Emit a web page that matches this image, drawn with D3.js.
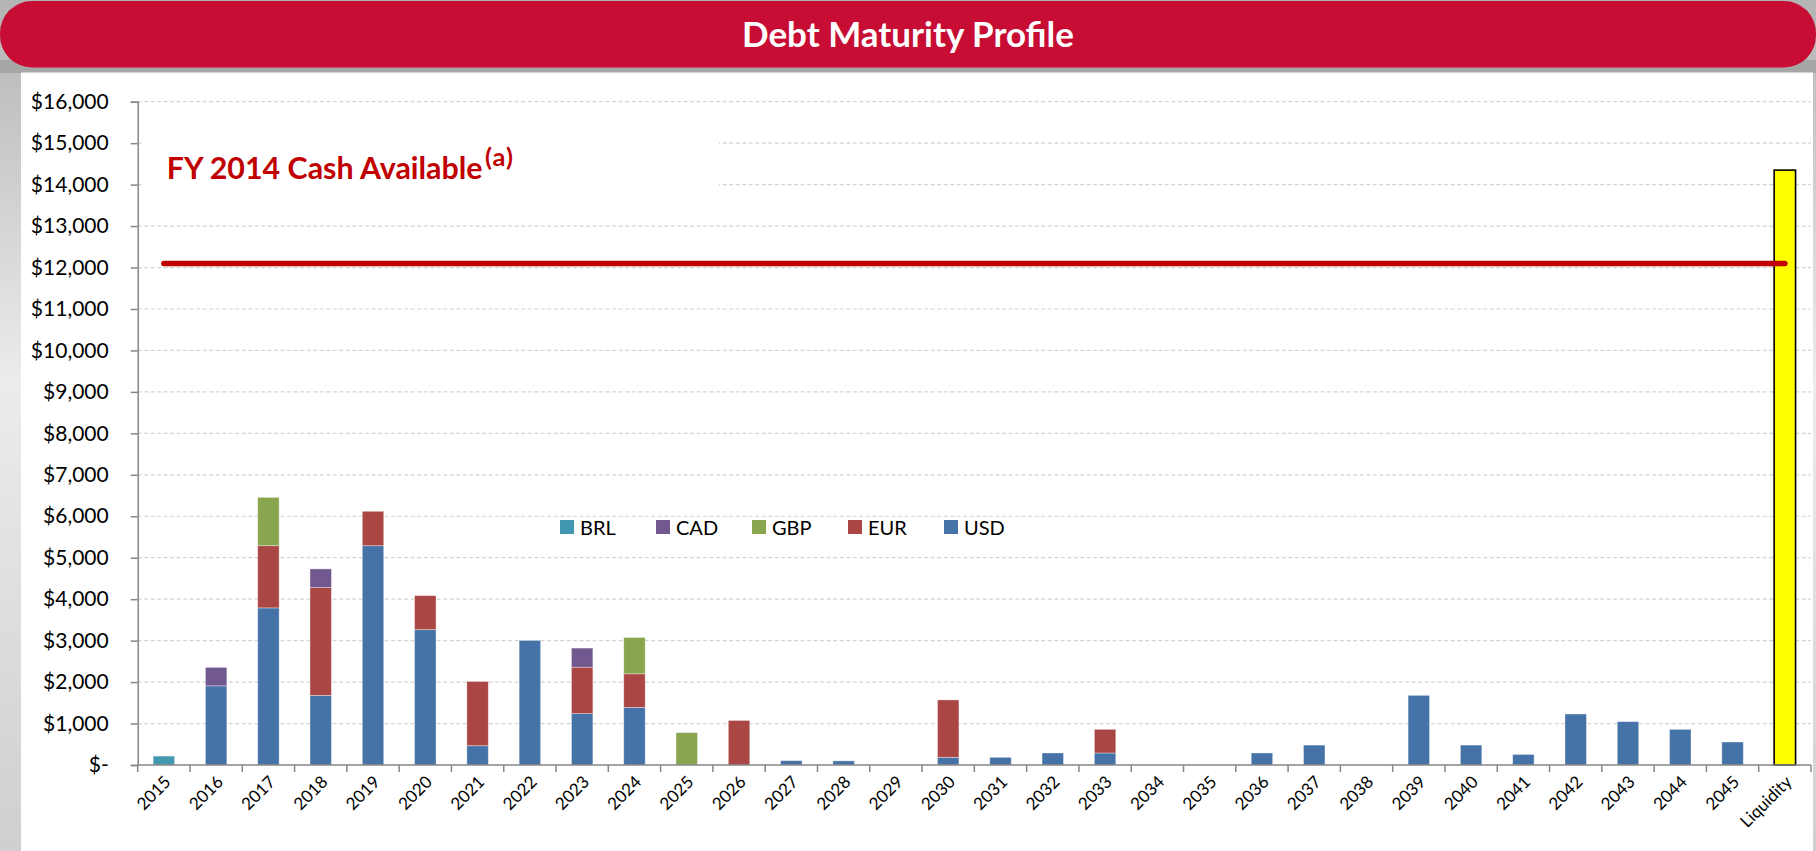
<!DOCTYPE html>
<html>
<head>
<meta charset="utf-8">
<script src="https://cdn.jsdelivr.net/npm/d3@7"></script>
<style>
  html, body { margin: 0; padding: 0; overflow: hidden; background: #fff; }
  svg { display: block; font-family: Lato, "Open Sans", sans-serif; }
</style>
</head>
<body>
<script>
// ---- data ----
const categories = ["2015","2016","2017","2018","2019","2020","2021","2022","2023","2024","2025","2026","2027","2028","2029","2030","2031","2032","2033","2034","2035","2036","2037","2038","2039","2040","2041","2042","2043","2044","2045","Liquidity"];
const USD = [0,1910,3790,1680,5290,3265,465,3005,1240,1390,0,0,105,100,0,185,185,290,290,0,0,290,480,0,1680,480,255,1230,1045,860,555,0];
const EUR = [0,0,1500,2600,830,820,1550,0,1120,810,0,1075,0,0,0,1385,0,0,570,0,0,0,0,0,0,0,0,0,0,0,0,0];
const GBP = [0,0,1165,0,0,0,0,0,0,875,780,0,0,0,0,0,0,0,0,0,0,0,0,0,0,0,0,0,0,0,0,0];
const CAD = [0,445,0,450,0,0,0,0,460,0,0,0,0,0,0,0,0,0,0,0,0,0,0,0,0,0,0,0,0,0,0,0];
const BRL = [215,0,0,0,0,0,0,0,0,0,0,0,0,0,0,0,0,0,0,0,0,0,0,0,0,0,0,0,0,0,0,0];
const Liquidity = [0,0,0,0,0,0,0,0,0,0,0,0,0,0,0,0,0,0,0,0,0,0,0,0,0,0,0,0,0,0,0,14350];
const cashAvailable = 12100;
const seriesNames = ["USD","EUR","GBP","CAD","BRL"];       // stacking order (bottom -> top)
const legendNames = ["BRL","CAD","GBP","EUR","USD"];
const yTicks = d3.range(0, 16001, 1000);
const titleText = "Debt Maturity Profile";
const noteText = "FY 2014 Cash Available";
const noteSup = "(a)";

const colors = {BRL:"#4198af", CAD:"#71588f", GBP:"#89a54e", EUR:"#aa4643", USD:"#4572a7"};
const seriesData = {USD, EUR, GBP, CAD, BRL};

// ---- layout ----
const W = 1816, H = 851;
const plot = {left: 137.7, right: 1811, top: 101.7, bottom: 765};

function fitWidth(sel, target) {
  const n = sel.node();
  const w = n.getComputedTextLength();
  const fs = parseFloat(sel.attr("font-size"));
  if (w > 0) sel.attr("font-size", fs * target / w);
}

const svg = d3.select("body").append("svg").attr("width", W).attr("height", H);
const defs = svg.append("defs");
const bg = defs.append("linearGradient").attr("id","bg").attr("x1",0).attr("y1",0).attr("x2",0).attr("y2",1);
bg.append("stop").attr("offset","0%").attr("stop-color","#b4b4b4");
bg.append("stop").attr("offset","45%").attr("stop-color","#ececec");
bg.append("stop").attr("offset","100%").attr("stop-color","#cfcfcf");

svg.append("rect").attr("width",W).attr("height",H).attr("fill","url(#bg)");
svg.append("rect").attr("x",0).attr("y",60).attr("width",W).attr("height",13).attr("fill","#a6a6a6");
// white panel
svg.append("rect").attr("x",21).attr("y",72.5).attr("width",1792).attr("height",H-72.5).attr("fill","#fff");
// title bar
svg.append("rect").attr("x",0).attr("y",1).attr("width",W).attr("height",66.5).attr("rx",32).attr("ry",32).attr("fill","#c70d33");
const title = svg.append("text").attr("x",W/2).attr("y",47).attr("text-anchor","middle")
  .attr("fill","#fff").attr("font-weight","bold").attr("font-size",31).text(titleText);
fitWidth(title, 332);

// ---- scales ----
const x = d3.scaleBand().domain(categories).range([plot.left, plot.right]).paddingInner(0.59).paddingOuter(0.295);
const y = d3.scaleLinear().domain([0,16000]).range([plot.bottom, plot.top]);

// gridlines
svg.append("g").selectAll("line").data(yTicks.filter(d=>d>0)).join("line")
  .attr("x1",plot.left).attr("x2",plot.right)
  .attr("y1",d=>y(d)).attr("y2",d=>y(d))
  .attr("stroke","#d4d4d4").attr("stroke-width",1.2).attr("stroke-dasharray","4,2.5");

// note box (white background hides gridlines)
svg.append("rect").attr("x",143).attr("y",126).attr("width",576).attr("height",74).attr("fill","#fff");
const noteMain = svg.append("text").attr("x",166.7).attr("y",179.3).attr("fill","#c00000")
  .attr("font-weight","bold").attr("font-size",29).text(noteText);
fitWidth(noteMain, 316);
const noteS = svg.append("text").attr("x",485).attr("y",166).attr("fill","#c00000")
  .attr("font-weight","bold").attr("font-size",19).attr("letter-spacing",1).text(noteSup);
fitWidth(noteS, 30);

// stacked bars
const rows = categories.map((c,i)=>{ const r={cat:c}; seriesNames.forEach(s=>r[s]=seriesData[s][i]); return r; });
const stacked = d3.stack().keys(seriesNames)(rows);
svg.append("g").selectAll("g").data(stacked).join("g").attr("fill",d=>colors[d.key])
  .selectAll("rect").data(d=>d.filter(v=>v[1]-v[0]>0)).join("rect")
  .attr("x",d=>x(d.data.cat)).attr("width",x.bandwidth())
  .attr("y",d=>y(d[1])).attr("height",d=>y(d[0])-y(d[1]))
  .attr("stroke","rgba(255,255,255,0.45)").attr("stroke-width",0.8);

// liquidity bar
svg.append("g").selectAll("rect").data(categories.map((c,i)=>({cat:c,v:Liquidity[i]})).filter(d=>d.v>0)).join("rect")
  .attr("x",d=>x(d.cat)).attr("width",x.bandwidth())
  .attr("y",d=>y(d.v)).attr("height",d=>y(0)-y(d.v))
  .attr("fill","#ffff00").attr("stroke","#000").attr("stroke-width",1.6);

// axes
const yAxis = d3.axisLeft(y).tickValues(yTicks).tickSize(7).tickPadding(22)
  .tickFormat(d=> d===0 ? "$-" : "$"+d3.format(",")(d));
const gy = svg.append("g").attr("transform",`translate(${plot.left},0)`).call(yAxis);
gy.select(".domain").attr("stroke","#868686").attr("stroke-width",1.5);
gy.selectAll(".tick line").attr("stroke","#868686").attr("stroke-width",1.5);
gy.selectAll(".tick text").attr("font-size",21).attr("fill","#000").attr("font-family","Lato, sans-serif");

// x axis: ticks at band boundaries
const gx = svg.append("g").attr("transform",`translate(0,${plot.bottom})`);
gx.append("line").attr("x1",plot.left).attr("x2",plot.right).attr("stroke","#868686").attr("stroke-width",1.5);
const bounds = categories.map(c=>x(c) - x.step()*x.paddingInner()/2 ).concat([plot.right]);
gx.selectAll("line.tk").data(bounds).join("line").attr("class","tk")
  .attr("x1",d=>d).attr("x2",d=>d).attr("y1",0).attr("y2",7)
  .attr("stroke","#868686").attr("stroke-width",1.5);
gx.selectAll("text").data(categories).join("text")
  .attr("transform",c=>`translate(${x(c)+x.bandwidth()/2+8},${18}) rotate(-45)`)
  .attr("text-anchor","end").attr("font-size",17).attr("fill","#000").text(c=>c);

// cash available line (from first to last category centre)
const c0 = categories[0], cN = categories[categories.length-1];
svg.append("line")
  .attr("x1",x(c0)+x.bandwidth()/2).attr("x2",x(cN)+x.bandwidth()/2)
  .attr("y1",y(cashAvailable)).attr("y2",y(cashAvailable))
  .attr("stroke","#c00000").attr("stroke-width",5.5).attr("stroke-linecap","round");

// legend
const lg = svg.append("g").attr("transform","translate(560,520)");
const li = lg.selectAll("g").data(legendNames).join("g").attr("transform",(d,i)=>`translate(${i*96},0)`);
li.append("rect").attr("width",14).attr("height",14).attr("fill",d=>colors[d]);
li.append("text").attr("x",20).attr("y",15).attr("font-size",20).attr("fill","#000").text(d=>d);
</script>
</body>
</html>
